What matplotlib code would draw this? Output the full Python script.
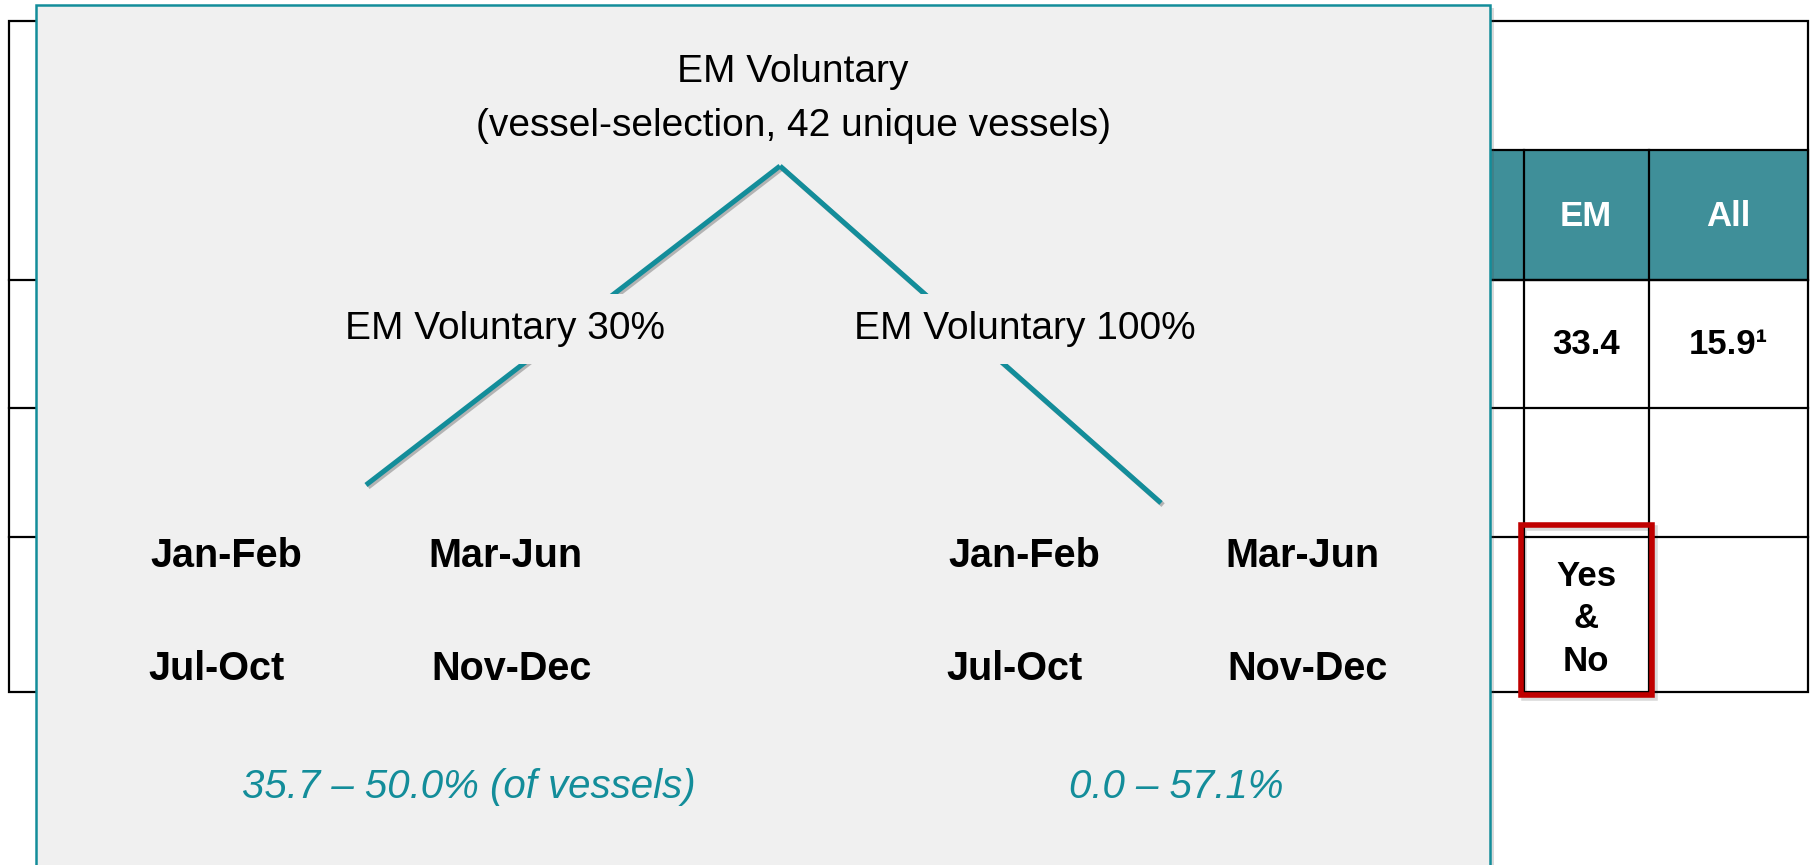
import matplotlib.pyplot as plt
from matplotlib.patches import Rectangle
import matplotlib.patheffects as pe

# --- data ---
title_lines = ["EM Voluntary", "(vessel-selection, 42 unique vessels)"]
branches = ["EM Voluntary 30%", "EM Voluntary 100%"]
periods = ["Jan-Feb", "Mar-Jun", "Jul-Oct", "Nov-Dec"]
ranges = ["35.7 \u2013 50.0% (of vessels)", "0.0 \u2013 57.1%"]
header_cols = ["EM", "All"]
row_values = ["33.4", "15.9\u00b9"]
flag_value = "Yes\n&\nNo"

TEAL = "#138d9a"
HEADER = "#3f8f99"
PANEL = "#f0f0f0"
NARROW = ["Liberation Sans Narrow", "Liberation Sans", "DejaVu Sans"]
WIDE = ["Liberation Sans", "DejaVu Sans"]

W, H = 1812, 865
fig = plt.figure(figsize=(W / 100, H / 100), dpi=100)
ax = fig.add_axes([0, 0, 1, 1])
ax.set_xlim(0, W)
ax.set_ylim(H, 0)
ax.set_axis_off()

# ----- background table -----
lw_tab = 1.6
ax.add_patch(Rectangle((9, 21), 1808 - 9, 692 - 21, fill=False, ec="black", lw=lw_tab, zorder=1))
ax.add_patch(Rectangle((1300, 150), 1808 - 1300, 280 - 150, fc=HEADER, ec="black", lw=lw_tab, zorder=1))
for y in [280, 408, 537]:
    ax.plot([9, 1808], [y, y], color="black", lw=lw_tab, zorder=1)
for x in [1524, 1649]:
    ax.plot([x, x], [150, 692], color="black", lw=lw_tab, zorder=1)

col_x = [1586, 1728]
for x, lab in zip(col_x, header_cols):
    ax.text(x, 216, lab, ha="center", va="center", color="white", fontsize=25,
            fontweight="bold", family=WIDE, zorder=2)
for x, val in zip(col_x, row_values):
    ax.text(x, 345, val, ha="center", va="center", color="black", fontsize=25,
            fontweight="bold", family=WIDE, zorder=2)
ax.text(col_x[0], 619, flag_value, ha="center", va="center", color="black", fontsize=25,
        fontweight="bold", family=WIDE, linespacing=1.38, zorder=2)

# red highlight (soft shadow drawn underneath)
ax.add_patch(Rectangle((1524, 528), 1652 - 1521, 695 - 525, fill=False, ec="black",
                       lw=4, alpha=0.15, zorder=2))
ax.add_patch(Rectangle((1521, 525), 1652 - 1521, 695 - 525, fill=False, ec="#c00000",
                       lw=4, zorder=3))

# ----- overlay panel -----
ax.add_patch(Rectangle((36, 5), 1490 - 36, 900, fc=PANEL, ec=TEAL, lw=1.8, zorder=4,
                       path_effects=[pe.SimplePatchShadow(offset=(3, -2), alpha=0.2), pe.Normal()]))

ax.text(793, 72, title_lines[0], ha="center", va="center", fontsize=28, family=NARROW, zorder=6)
ax.text(793, 126, title_lines[1], ha="center", va="center", fontsize=28, family=NARROW, zorder=6)

apex = (780, 166)
ends = [(366, 485), (1161, 503)]
line_fx = [pe.SimpleLineShadow(offset=(1.5, -1.5), alpha=0.25), pe.Normal()]
for ex, ey in ends:
    ax.plot([apex[0], ex], [apex[1], ey], color=TEAL, lw=3.6, zorder=5,
            solid_capstyle="butt", path_effects=line_fx)

branch_x = [505, 1025]
for x, lab in zip(branch_x, branches):
    ax.text(x, 329, lab, ha="center", va="center", fontsize=28, family=NARROW, zorder=6,
            bbox=dict(fc=PANEL, ec="none", pad=12))

period_pos = [
    [(226, 556), (505, 556), (217, 669), (512, 669)],
    [(1024, 556), (1302, 556), (1015, 669), (1308, 669)],
]
for group in period_pos:
    for (x, y), lab in zip(group, periods):
        ax.text(x, y, lab, ha="center", va="center", fontsize=28.5, fontweight="bold",
                family=NARROW, zorder=6)

range_pos = [(469, 787), (1176, 787)]
for (x, y), lab in zip(range_pos, ranges):
    ax.text(x, y, lab, ha="center", va="center", fontsize=29, style="italic",
            color=TEAL, family=NARROW, zorder=6)

fig.savefig("out.png", dpi=100)
